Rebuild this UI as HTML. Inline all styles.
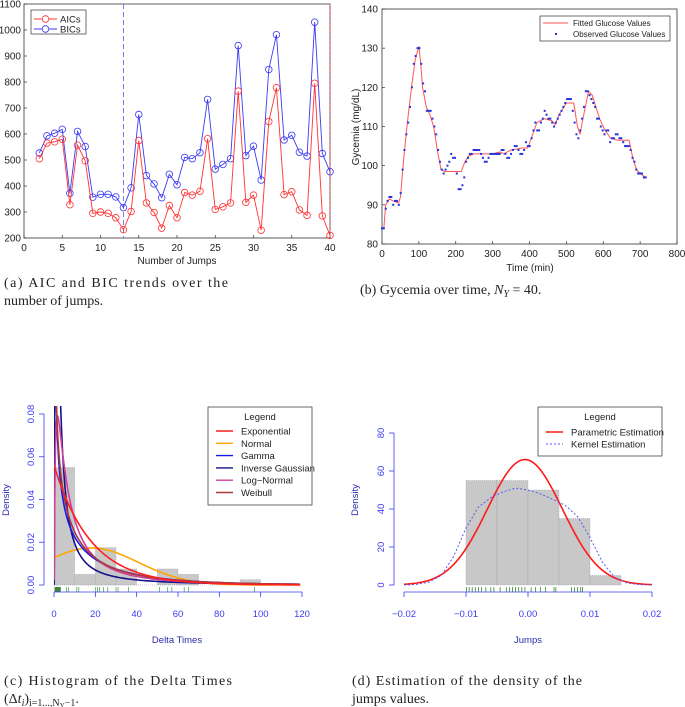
<!DOCTYPE html>
<html><head><meta charset="utf-8"><style>
body{margin:0;background:#fff;}
svg{display:block;font-family:"Liberation Sans",sans-serif;}
.cap{font-family:"Liberation Serif",serif;font-size:14px;fill:#222;}
</style></head><body>
<svg id="fig" width="685" height="707" viewBox="0 0 685 707" xmlns="http://www.w3.org/2000/svg">
<g id="pa"></g>
<g id="pb"></g>
<g id="pc"></g>
<g id="pd"></g>
<text class="cap" x="4" y="287" textLength="224" lengthAdjust="spacing">(a)  AIC and BIC trends over the</text>
<text class="cap" x="4" y="305">number of jumps.</text>
<text class="cap" x="360" y="294">(b) Gycemia over time, <tspan font-style="italic">N</tspan><tspan font-size="10" dy="3" font-style="italic">Y</tspan><tspan dy="-3"> = 40.</tspan></text>
<text class="cap" x="4" y="685" textLength="228" lengthAdjust="spacing">(c)  Histogram of the Delta Times</text>
<text class="cap" x="4" y="703">(Δ<tspan font-style="italic">t</tspan><tspan font-size="10" dy="3" font-style="italic">i</tspan><tspan dy="-3">)</tspan><tspan font-size="10" dy="3">i=1...,N</tspan><tspan font-size="7" dy="2">Y</tspan><tspan font-size="10" dy="-2">−1</tspan><tspan dy="-3">.</tspan></text>
<text class="cap" x="352" y="685" textLength="230" lengthAdjust="spacing">(d) Estimation of the density of the</text>
<text class="cap" x="352" y="703">jumps values.</text>
</svg>
<script>
// ---------- Panel A data ----------
const jumps = [];
for (let j = 2; j <= 40; j++) jumps.push(j);
const aicValues = [505,565,570,580,328,557,497,295,300,295,278,232,302,575,335,298,238,325,278,375,365,380,582,310,320,335,765,337,365,230,648,778,367,378,308,287,795,285,210];
const bicValues = [527,593,603,618,372,610,552,357,368,368,358,317,393,675,440,408,355,445,405,510,505,528,733,465,483,505,940,517,553,423,848,982,577,595,530,515,1030,525,455];
const aTicksX = [0,5,10,15,20,25,30,35,40];
const aTicksY = [200,300,400,500,600,700,800,900,1000,1100];
const aBestJump = [13];

// ---------- Panel B data ----------
const fitT = [0,5,10,20,30,45,50,60,70,80,90,100,105,110,120,130,140,150,160,170,200,215,225,235,250,300,320,330,340,350,380,395,405,420,440,460,470,480,500,520,530,537,545,560,570,590,605,620,640,670,680,690,700,715];
const fitG = [84,84,90,91.5,91,90.5,92,103,112,120,127,130.5,126,120,115,113,110,104,99,98.5,98.5,98.5,101,102.5,103,103,103.5,103,103.5,104,104.5,104.5,107,111,112,111.5,110.5,113,116,116,110,108,112,119,118,112,109,107,106.5,106.5,102,99,98,97];
const obsG = [84,84,89,91,92,92,90,91,91,90,93,99,104,108,111,115,120,126,128,130,130,126,121,119,114,114,114,112,110,108,104,101,99,98,99,100,101,103,102,102,98,94,94,95,97,101,102,103,103,104,104,104,104,103,102,101,101,102,103,103,103,103,103,103,104,104,103,102,102,103,104,105,105,104,103,103,104,106,105,105,107,109,111,109,109,111,112,114,113,112,112,111,110,111,112,113,114,115,116,117,117,117,114,111,108,107,109,112,115,119,119,118,117,116,115,112,112,110,109,108,109,109,106,107,107,108,108,107,107,106,105,105,105,104,102,101,99,98,98,98,97,97];
const obsEndTime = [715];
const bTicksX = [0,100,200,300,400,500,600,700,800];
const bTicksY = [80,90,100,110,120,130,140];

// ---------- Panel C data ----------
const cBinStarts = [0,10,20,30,40,50,60,70,80,90];
const cBinDens = [0.055,0.005,0.0175,0.0075,0,0.0075,0.005,0,0,0.0025];
const cRug = [0.5,1,1.5,2,2.5,3,6,7,11,12,20,21,22,24,26,30,31,36,51,55,57,63,65,97];
const cNames = ["Exponential","Normal","Gamma","Inverse Gaussian","Log\u2212Normal","Weibull"];
const expRate = [0.056];
const normPar = [18,23];
const gammaPar = [0.5,36];
const invGPar = [18,2.5];
const lnormPar = [2.2,1.3];
const weibPar = [0.7,15];
const cTicksX = [0,20,40,60,80,100,120];
const cTicksY = [0,0.02,0.04,0.06,0.08];

// ---------- Panel D data ----------
const dBinStarts = [-0.01,-0.005,0,0.005,0.01];
const dBinDens = [55,55,50,35,5];
const dNormPar = [-0.0005,0.00604];
const kernX = [-0.02,-0.018,-0.016,-0.014,-0.012,-0.01,-0.008,-0.006,-0.004,-0.002,0,0.002,0.004,0.006,0.008,0.01,0.012,0.014,0.016,0.018,0.02];
const kernY = [0,0.3,1.5,5,15,30,41,46,49,51,50,48,45,42,36,25,12,4,1,0.2,0];
const dRug = [-0.0099,-0.0095,-0.009,-0.0085,-0.008,-0.0075,-0.0068,-0.006,-0.0055,-0.0045,-0.0035,-0.003,-0.0025,-0.002,-0.0015,-0.001,-0.0005,0.0005,0.0012,0.002,0.0028,0.0042,0.0045,0.007,0.0075,0.008,0.0085,0.0088];
const dTicksX = [-0.02,-0.01,0,0.01,0.02];
const dTicksY = [0,20,40,60,80];

const NS = "http://www.w3.org/2000/svg";
function mk(parent, tag, attrs, text) {
  const e = document.createElementNS(NS, tag);
  for (const k in attrs) e.setAttribute(k, attrs[k]);
  if (text !== undefined) e.textContent = text;
  parent.appendChild(e);
  return e;
}
function lin(d0, d1, r0, r1) { return v => r0 + (v - d0) * (r1 - r0) / (d1 - d0); }

// ===== Panel A =====
(function () {
  const g = document.getElementById('pa');
  const X = lin(0, 40, 24, 330), Y = lin(200, 1100, 238, 4);
  let e = mk(g, 'rect', {x:24, y:4, width:306, height:234, fill:'#fff', stroke:'#333', 'stroke-width':0.8});
   
  aTicksX.forEach(t => {
    mk(g, 'line', {x1:X(t), x2:X(t), y1:238, y2:235, stroke:'#333', 'stroke-width':0.7});
    e = mk(g, 'text', {x:X(t), y:251, 'font-size':10, 'text-anchor':'middle', fill:'#222'}, t);
     
  });
  aTicksY.forEach(t => {
    mk(g, 'line', {x1:24, x2:27, y1:Y(t), y2:Y(t), stroke:'#333', 'stroke-width':0.7});
    e = mk(g, 'text', {x:21, y:Y(t) + 3.5, 'font-size':10, 'text-anchor':'end', fill:'#222'}, t);
     
  });
  e = mk(g, 'text', {x:177, y:264, 'font-size':10, 'text-anchor':'middle', fill:'#222'}, 'Number of Jumps');
   
  aBestJump.forEach(b => {
    e = mk(g, 'line', {x1:X(b), x2:X(b), y1:4, y2:238, stroke:'#6670ee', 'stroke-dasharray':'5,3', 'stroke-width':0.9});
     
  });
  mk(g, 'line', {x1:330, x2:330, y1:4, y2:238, stroke:'#e44', 'stroke-dasharray':'3,2', 'stroke-width':0.8});
  [[bicValues, '#3a3af5', 'bic'], [aicValues, '#f33', 'aic']].forEach(([vals, col, nm]) => {
    e = mk(g, 'polyline', {points: vals.map((v, i) => X(jumps[i]) + ',' + Y(v)).join(' '), fill:'none', stroke:col, 'stroke-width':0.9});
     
    vals.forEach((v, i) => {
      e = mk(g, 'circle', {cx:X(jumps[i]), cy:Y(v), r:3.3, fill:'none', stroke:col, 'stroke-width':0.8});
       
    });
  });
  const lg = mk(g, 'g', {});
   
  mk(lg, 'rect', {x:31, y:10, width:55, height:24, fill:'#fff', stroke:'#333', 'stroke-width':0.7});
  [['AICs', '#f33', 19], ['BICs', '#3a3af5', 29]].forEach(([t, c, y]) => {
    mk(lg, 'line', {x1:34, x2:57, y1:y, y2:y, stroke:c, 'stroke-width':0.9});
    mk(lg, 'circle', {cx:45.5, cy:y, r:3.3, fill:'#fff', stroke:c, 'stroke-width':0.8});
    e = mk(lg, 'text', {x:60, y:y + 3.5, 'font-size':9.5, fill:'#222'}, t);
     
  });
})();

// ===== Panel B =====
(function () {
  const g = document.getElementById('pb');
  const X = lin(0, 800, 382, 677), Y = lin(80, 140, 244, 9);
  let e = mk(g, 'rect', {x:382, y:9, width:295, height:235, fill:'#fff', stroke:'#333', 'stroke-width':0.8});
   
  bTicksX.forEach(t => {
    mk(g, 'line', {x1:X(t), x2:X(t), y1:244, y2:241, stroke:'#333', 'stroke-width':0.7});
    e = mk(g, 'text', {x:X(t), y:257, 'font-size':10, 'text-anchor':'middle', fill:'#222'}, t);
     
  });
  bTicksY.forEach(t => {
    mk(g, 'line', {x1:382, x2:385, y1:Y(t), y2:Y(t), stroke:'#333', 'stroke-width':0.7});
    e = mk(g, 'text', {x:378, y:Y(t) + 3.5, 'font-size':10, 'text-anchor':'end', fill:'#222'}, t);
     
  });
  e = mk(g, 'text', {x:530, y:271, 'font-size':10, 'text-anchor':'middle', fill:'#222'}, 'Time (min)');
   
  e = mk(g, 'text', {x:0, y:0, 'font-size':10, 'text-anchor':'middle', fill:'#222', transform:'translate(359,127) rotate(-90)'}, 'Gycemia (mg/dL)');
   
  e = mk(g, 'polyline', {points: fitT.map((t, i) => X(t) + ',' + Y(fitG[i])).join(' '), fill:'none', stroke:'#f55', 'stroke-width':1});
   
  const step = obsEndTime[0] / (obsG.length - 1);
  obsG.forEach((v, i) => {
    e = mk(g, 'rect', {x:X(i * step) - 1, y:Y(v) - 1, width:2, height:2, fill:'#2233dd'});
     
  });
  const lg = mk(g, 'g', {});
   
  mk(lg, 'rect', {x:540, y:16, width:130, height:25, fill:'#fff', stroke:'#333', 'stroke-width':0.7});
  mk(lg, 'line', {x1:543, x2:568, y1:23, y2:23, stroke:'#f55', 'stroke-width':1});
  e = mk(lg, 'text', {x:573, y:26, 'font-size':8, fill:'#222'}, 'Fitted Glucose Values');
   
  mk(lg, 'rect', {x:555, y:33, width:2, height:2, fill:'#2233dd'});
  e = mk(lg, 'text', {x:573, y:37, 'font-size':8, fill:'#222'}, 'Observed Glucose Values');
   
})();

// ===== Panel C =====
function gammaFn(z){const p=[676.5203681218851,-1259.1392167224028,771.32342877765313,-176.61502916214059,12.507343278686905,-0.13857109526572012,9.9843695780195716e-6,1.5056327351493116e-7];if(z<0.5)return Math.PI/(Math.sin(Math.PI*z)*gammaFn(1-z));z-=1;let x=0.99999999999980993;for(let i=0;i<8;i++)x+=p[i]/(z+i+1);const t=z+7.5;return Math.sqrt(2*Math.PI)*Math.pow(t,z+0.5)*Math.exp(-t)*x;}
(function () {
  const g = document.getElementById('pc');
  const X = lin(0, 120, 54, 302), Y = lin(0, 0.08, 585, 414);
  const clip = mk(g, 'clipPath', {id:'clipc'});
  mk(clip, 'rect', {x:54, y:406, width:252, height:181});
  const blue = '#3b3bf0';
  cBinStarts.forEach((s, i) => {
    if (cBinDens[i] <= 0) return;
    const e = mk(g, 'rect', {x:X(s), y:Y(cBinDens[i]), width:X(s + 10) - X(s), height:Y(0) - Y(cBinDens[i]), fill:'#c8c8c8', stroke:'#aab', 'stroke-dasharray':'1,1', 'stroke-width':0.6});
     
  });
  let e = mk(g, 'line', {x1:X(0), x2:X(120), y1:Y(0), y2:Y(0), stroke:'#99a', 'stroke-dasharray':'1,1', 'stroke-width':0.6});
  const dens = [
    x => expRate[0] * Math.exp(-expRate[0] * x),
    x => Math.exp(-Math.pow(x - normPar[0], 2) / (2 * normPar[1] * normPar[1])) / (normPar[1] * Math.sqrt(2 * Math.PI)),
    x => Math.pow(x, gammaPar[0] - 1) * Math.exp(-x / gammaPar[1]) / (gammaFn(gammaPar[0]) * Math.pow(gammaPar[1], gammaPar[0])),
    x => Math.sqrt(invGPar[1] / (2 * Math.PI * x * x * x)) * Math.exp(-invGPar[1] * Math.pow(x - invGPar[0], 2) / (2 * invGPar[0] * invGPar[0] * x)),
    x => Math.exp(-Math.pow(Math.log(x) - lnormPar[0], 2) / (2 * lnormPar[1] * lnormPar[1])) / (x * lnormPar[1] * Math.sqrt(2 * Math.PI)),
    x => (weibPar[0] / weibPar[1]) * Math.pow(x / weibPar[1], weibPar[0] - 1) * Math.exp(-Math.pow(x / weibPar[1], weibPar[0]))
  ];
  const cols = ['#ff2020', '#ffa500', '#1a1aee', '#12128a', '#d0409a', '#a83a3a'];
  const order = [1, 3, 2, 4, 5, 0];
  order.forEach(k => {
    const pts = [];
    for (let x = 0.05; x <= 120; x += (x < 10 ? 0.1 : 1)) {
      let y = dens[k](x); if (y > 0.2) y = 0.2;
      pts.push(X(x) + ',' + Y(y));
    }
    if (k === 0 || k === 1) pts.unshift(X(0) + ',' + Y(dens[k](0)));
    const e2 = mk(g, 'polyline', {points: pts.join(' '), fill:'none', stroke:cols[k], 'stroke-width':1.6, 'clip-path':'url(#clipc)'});
     
  });
  cRug.forEach(r => {
    const e2 = mk(g, 'line', {x1:X(r), x2:X(r), y1:587, y2:592, stroke:r < 4 ? '#0a5a0a' : '#5aa85a', 'stroke-width':0.8});
     
  });
  mk(g, 'line', {x1:X(0), x2:X(120), y1:592, y2:592, stroke:blue, 'stroke-width':0.8});
  cTicksX.forEach(t => {
    mk(g, 'line', {x1:X(t), x2:X(t), y1:592, y2:597, stroke:blue, 'stroke-width':0.8});
    const e2 = mk(g, 'text', {x:X(t), y:617, 'font-size':9.5, 'text-anchor':'middle', fill:blue}, t);
     
  });
  mk(g, 'line', {x1:44, x2:44, y1:Y(0), y2:Y(0.08), stroke:blue, 'stroke-width':0.8});
  cTicksY.forEach(t => {
    mk(g, 'line', {x1:39, x2:44, y1:Y(t), y2:Y(t), stroke:blue, 'stroke-width':0.8});
    const e2 = mk(g, 'text', {x:0, y:0, 'font-size':9.5, 'text-anchor':'middle', fill:blue, transform:'translate(34,' + Y(t) + ') rotate(-90)'}, t.toFixed(2));
     
  });
  e = mk(g, 'text', {x:177, y:643, 'font-size':9.5, 'text-anchor':'middle', fill:'#2a2aaa'}, 'Delta Times');
   
  e = mk(g, 'text', {x:0, y:0, 'font-size':9.5, 'text-anchor':'middle', fill:'#2a2aaa', transform:'translate(9,500) rotate(-90)'}, 'Density');
   
  const lg = mk(g, 'g', {});
   
  mk(lg, 'rect', {x:208, y:407, width:104, height:98, fill:'#fff', stroke:'#444', 'stroke-width':0.8});
  mk(lg, 'text', {x:260, y:420, 'font-size':9.5, 'text-anchor':'middle', fill:'#222'}, 'Legend');
  cNames.forEach((n, k) => {
    const y = 431 + k * 12.3;
    mk(lg, 'line', {x1:216, x2:233, y1:y, y2:y, stroke:cols[k], 'stroke-width':1.4});
    const e2 = mk(lg, 'text', {x:241, y:y + 3.5, 'font-size':9.5, fill:'#222'}, n);
     
  });
})();

// ===== Panel D =====
(function () {
  const g = document.getElementById('pd');
  const X = lin(-0.02, 0.02, 404, 652), Y = lin(0, 80, 585, 433);
  const blue = '#3b3bf0';
  dBinStarts.forEach((s, i) => {
    const e = mk(g, 'rect', {x:X(s), y:Y(dBinDens[i]), width:X(s + 0.005) - X(s), height:Y(0) - Y(dBinDens[i]), fill:'#c8c8c8', stroke:'#99b', 'stroke-dasharray':'1,1', 'stroke-width':0.6});
     
  });
  const pts = [];
  for (let x = -0.02; x <= 0.02001; x += 0.0004) {
    pts.push(X(x) + ',' + Y(Math.exp(-Math.pow(x - dNormPar[0], 2) / (2 * dNormPar[1] * dNormPar[1])) / (dNormPar[1] * Math.sqrt(2 * Math.PI))));
  }
  let e = mk(g, 'polyline', {points: pts.join(' '), fill:'none', stroke:'#ff1a1a', 'stroke-width':1.6});
   
  e = mk(g, 'polyline', {points: kernX.map((x, i) => X(x) + ',' + Y(kernY[i])).join(' '), fill:'none', stroke:'#5a5af0', 'stroke-dasharray':'2,2', 'stroke-width':1});
   
  dRug.forEach(r => {
    const e2 = mk(g, 'line', {x1:X(r), x2:X(r), y1:587, y2:592, stroke:'#3a8a3a', 'stroke-width':0.8});
     
  });
  mk(g, 'line', {x1:X(-0.02), x2:X(0.02), y1:592, y2:592, stroke:blue, 'stroke-width':0.8});
  dTicksX.forEach(t => {
    mk(g, 'line', {x1:X(t), x2:X(t), y1:592, y2:597, stroke:blue, 'stroke-width':0.8});
    const e2 = mk(g, 'text', {x:X(t), y:617, 'font-size':9.5, 'text-anchor':'middle', fill:blue}, t === 0 ? '0.00' : (t < 0 ? '\u2212' : '') + Math.abs(t).toFixed(2));
     
  });
  mk(g, 'line', {x1:394, x2:394, y1:Y(0), y2:Y(80), stroke:blue, 'stroke-width':0.8});
  dTicksY.forEach(t => {
    mk(g, 'line', {x1:389, x2:394, y1:Y(t), y2:Y(t), stroke:blue, 'stroke-width':0.8});
    const e2 = mk(g, 'text', {x:0, y:0, 'font-size':9.5, 'text-anchor':'middle', fill:blue, transform:'translate(384,' + Y(t) + ') rotate(-90)'}, t);
     
  });
  e = mk(g, 'text', {x:528, y:643, 'font-size':9.5, 'text-anchor':'middle', fill:'#2a2aaa'}, 'Jumps');
   
  e = mk(g, 'text', {x:0, y:0, 'font-size':9.5, 'text-anchor':'middle', fill:'#2a2aaa', transform:'translate(358,500) rotate(-90)'}, 'Density');
   
  const lg = mk(g, 'g', {});
   
  mk(lg, 'rect', {x:538, y:407, width:124, height:49, fill:'#fff', stroke:'#444', 'stroke-width':0.8});
  mk(lg, 'text', {x:600, y:420, 'font-size':9.5, 'text-anchor':'middle', fill:'#222'}, 'Legend');
  mk(lg, 'line', {x1:546, x2:563, y1:432, y2:432, stroke:'#ff1a1a', 'stroke-width':1.4});
  e = mk(lg, 'text', {x:571, y:435.5, 'font-size':9.5, fill:'#222'}, 'Parametric Estimation');
   
  mk(lg, 'line', {x1:546, x2:563, y1:444, y2:444, stroke:'#5a5af0', 'stroke-dasharray':'2,2', 'stroke-width':1});
  e = mk(lg, 'text', {x:571, y:447.5, 'font-size':9.5, fill:'#222'}, 'Kernel Estimation');
   
})();
</script>
</body></html>
